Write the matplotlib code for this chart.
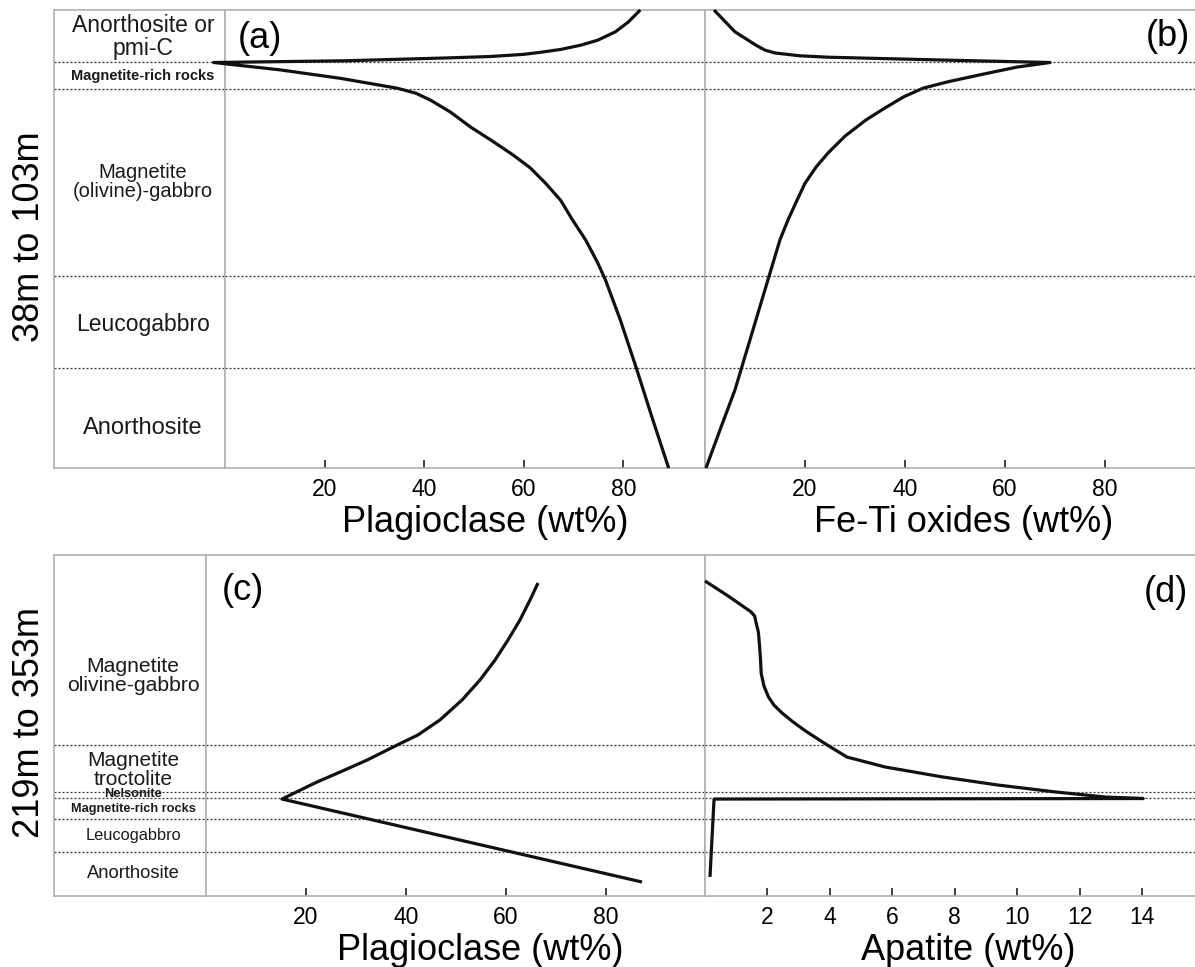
import numpy as np
import matplotlib.pyplot as plt

plt.rcParams['font.family'] = ['Liberation Sans', 'DejaVu Sans']

# ---------------- top section, 38m to 103m (depth in m) ----------------
top_bounds = [45.4, 49.2, 75.7, 88.8]
top_units = ['Anorthosite or\npmi-C', 'Magnetite-rich rocks', 'Magnetite\n(olivine)-gabbro',
             'Leucogabbro', 'Anorthosite']
top_unit_depth = [41.8, 47.4, 62.4, 82.6, 97.3]

# (a) plagioclase
plag_a = [83.4, 81.0, 78.4, 74.8, 71.4, 67.4, 63.4, 59.9, 53.3, 44.7, 24.6, -2.3,
          11.1, 23.2, 34.6, 38.3, 41.3, 45.3, 49.3, 53.7, 57.9, 61.3, 64.4, 67.4, 69.8,
          72.4, 74.8, 76.4, 79.4, 82.6, 85.8, 89.1]
depth_a = [38.0, 39.7, 41.1, 42.3, 43.0, 43.6, 44.0, 44.3, 44.6, 44.8, 45.2, 45.45,
           46.5, 47.7, 49.1, 49.8, 50.8, 52.5, 54.6, 56.6, 58.6, 60.4, 62.6, 65.0, 67.8,
           70.6, 73.8, 76.3, 82.0, 88.8, 95.9, 103.0]

# (b) Fe-Ti oxides
feti_b = [1.8, 6.0, 8.0, 10.2, 12.0, 14.0, 19.0, 24.6, 47.4, 69.0, 62.4, 55.0, 48.5,
          43.6, 39.8, 36.0, 32.2, 28.0, 24.6, 22.2, 20.0, 18.4, 16.6, 15.0, 12.0, 9.0,
          6.0, 3.0, 0.2]
depth_b = [38.0, 41.1, 42.0, 43.0, 43.7, 44.1, 44.5, 44.7, 45.1, 45.45, 46.1, 47.2, 48.2,
           49.1, 50.3, 51.9, 53.6, 55.9, 58.3, 60.3, 62.6, 65.0, 67.8, 70.6, 77.7, 84.8,
           91.9, 97.6, 103.0]

# ---------------- bottom section, 219m to 353m ----------------
bot_bounds = [293.7, 312.1, 314.5, 322.7, 335.7]
bot_units = ['Magnetite\nolivine-gabbro', 'Magnetite\ntroctolite', 'Nelsonite',
             'Magnetite-rich rocks', 'Leucogabbro', 'Anorthosite']
bot_unit_depth = [266.5, 303.5, 312.9, 318.8, 329.4, 344.0]

# (c) plagioclase
plag_c = [66.4, 64.8, 62.8, 60.4, 57.8, 54.8, 51.2, 46.8, 42.4, 38.2, 32.2, 26.8, 22.2,
          15.2, 87.2]
depth_c = [230.0, 236.7, 244.5, 252.4, 260.3, 268.1, 276.0, 283.8, 289.7, 293.7, 299.6,
           304.3, 308.2, 314.9, 347.5]

# (d) apatite
apat_d = [0.0, 0.74, 1.47, 1.59, 1.63, 1.71, 1.75, 1.78, 1.80, 1.89, 2.03, 2.21, 2.47,
          2.82, 3.25, 3.92, 4.55, 5.77, 7.60, 9.39, 11.22, 12.82, 14.04, 0.29, 0.16]
depth_d = [229.2, 235.1, 241.3, 243.0, 245.2, 249.3, 255.0, 260.3, 265.5, 270.5, 274.7,
           278.0, 281.1, 284.6, 288.4, 293.7, 298.4, 302.3, 306.2, 309.4, 312.1, 314.1,
           314.7, 314.9, 345.5]

W, H = 1195, 967
fig = plt.figure(figsize=(W / 100, H / 100), dpi=100)

SPINE = '#b0b0b0'
LINE = '#111111'


def px_axes(x0, x1, y0, y1):
    # pixel box -> figure axes
    return fig.add_axes([x0 / W, 1 - y1 / H, (x1 - x0) / W, (y1 - y0) / H])


def style(ax, ylim, bounds, ticks=None, xlim=None, right=True):
    ax.set_ylim(ylim[1], ylim[0])
    for s in ax.spines.values():
        s.set_color(SPINE)
        s.set_linewidth(1.2)
    ax.spines['right'].set_visible(right)
    for b in bounds:
        ax.axhline(b, color='#333333', lw=0.9, ls=(0, (1.6, 1.6)), zorder=1)
    if xlim is not None:
        ax.set_xlim(*xlim)
    ax.set_yticks([])
    if ticks is None:
        ax.set_xticks([])
    else:
        ax.set_xticks(ticks)
        ax.tick_params(axis='x', direction='in', length=6, width=1.3, color='#333333',
                       labelsize=16.5, pad=7)


def unit_labels(ax, names, depths, sizes, weights):
    for n, d, s, w in zip(names, depths, sizes, weights):
        ax.text(0.52, d, n, transform=ax.get_yaxis_transform(), ha='center', va='center',
                fontsize=s, fontweight=w, linespacing=1.0, color='#1a1a1a')


def draw(ax, x, y):
    ax.plot(x, y, color=LINE, lw=2.3, clip_on=False, zorder=3,
            solid_joinstyle='round', solid_capstyle='butt')


# ---------------- top row ----------------
top_lim = (38, 103)
lab1 = px_axes(54, 225, 10, 468)
style(lab1, top_lim, top_bounds)
lab1.set_xlim(0, 1)
unit_labels(lab1, top_units, top_unit_depth, [16.5, 10.5, 14.5, 16.5, 17],
            ['normal', 'bold', 'normal', 'normal', 'normal'])

ax_a = px_axes(225, 705, 10, 468)
style(ax_a, top_lim, top_bounds, ticks=[20, 40, 60, 80], xlim=(0, 96.4))
draw(ax_a, plag_a, depth_a)
ax_a.set_xlabel('Plagioclase (wt%)', fontsize=26, labelpad=3)
ax_a.xaxis.label.set_x(0.542)
ax_a.text(0.026, 42.0, '(a)', fontsize=26, ha='left', va='center',
          transform=ax_a.get_yaxis_transform())

ax_b = px_axes(705, 1195, 10, 468)
style(ax_b, top_lim, top_bounds, ticks=[20, 40, 60, 80], xlim=(0, 98), right=False)
draw(ax_b, feti_b, depth_b)
ax_b.set_xlabel('Fe-Ti oxides (wt%)', fontsize=26, labelpad=3)
ax_b.xaxis.label.set_x(0.527)
ax_b.text(0.99, 41.7, '(b)', fontsize=26, ha='right', va='center',
          transform=ax_b.get_yaxis_transform())

# ---------------- bottom row ----------------
bot_lim = (219, 353)
lab2 = px_axes(54, 206, 555, 896)
style(lab2, bot_lim, bot_bounds)
lab2.set_xlim(0, 1)
unit_labels(lab2, bot_units, bot_unit_depth, [15.2, 15, 9.3, 9.2, 11.8, 13.2],
            ['normal', 'normal', 'bold', 'bold', 'normal', 'normal'])

ax_c = px_axes(206, 705, 555, 896)
style(ax_c, bot_lim, bot_bounds, ticks=[20, 40, 60, 80], xlim=(0, 99.8))
draw(ax_c, plag_c, depth_c)
ax_c.set_xlabel('Plagioclase (wt%)', fontsize=26, labelpad=3)
ax_c.xaxis.label.set_x(0.549)
ax_c.text(0.032, 233.0, '(c)', fontsize=26, ha='left', va='center',
          transform=ax_c.get_yaxis_transform())

ax_d = px_axes(705, 1195, 555, 896)
style(ax_d, bot_lim, bot_bounds, ticks=[2, 4, 6, 8, 10, 12, 14], xlim=(0, 15.7), right=False)
draw(ax_d, apat_d, depth_d)
ax_d.set_xlabel('Apatite (wt%)', fontsize=26, labelpad=3)
ax_d.xaxis.label.set_x(0.537)
ax_d.text(0.985, 233.8, '(d)', fontsize=26, ha='right', va='center',
          transform=ax_d.get_yaxis_transform())

fig.text(30 / W, 1 - 237 / H, '38m to 103m', rotation=90, ha='center', va='center', fontsize=26)
fig.text(30 / W, 1 - 722 / H, '219m to 353m', rotation=90, ha='center', va='center', fontsize=26)

fig.savefig('out.png', dpi=100, facecolor='white')
